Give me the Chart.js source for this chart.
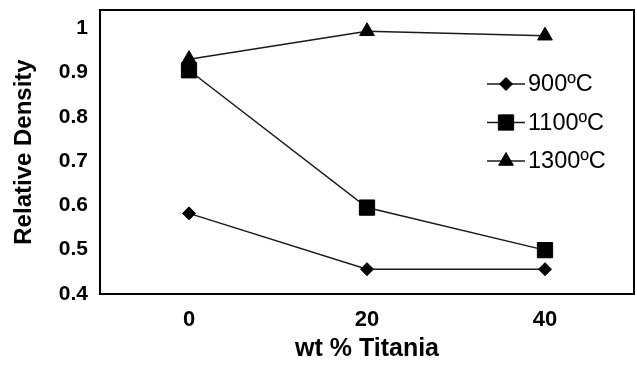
<!DOCTYPE html>
<html>
<head>
<meta charset="utf-8">
<script src="https://cdn.jsdelivr.net/npm/chart.js@4/dist/chart.umd.min.js"></script>
<style>
  html, body { margin: 0; padding: 0; background: #fff; }
  #wrap { width: 637px; height: 365px; position: relative; }
</style>
</head>
<body>
<div id="wrap"><canvas id="c" width="637" height="365"></canvas></div>
<script>
const categories = ['0', '20', '40'];
const seriesNames = ['900ºC', '1100ºC', '1300ºC'];
const d900 = [0.582, 0.456, 0.456];
const d1100 = [0.905, 0.595, 0.499];
const d1300 = [0.930, 0.993, 0.983];
const yTicks = [0.4, 0.5, 0.6, 0.7, 0.8, 0.9, 1];

const FONT = 'Arial, "Liberation Sans", Helvetica, sans-serif';
const LINE = '#1a1a1a';

function ds(label, data, style, r) {
  return {
    label, data,
    borderColor: LINE, borderWidth: 1.5,
    pointStyle: style, pointRadius: r, pointHoverRadius: r,
    pointBackgroundColor: '#000', pointBorderColor: '#000', pointBorderWidth: 1,
    tension: 0, fill: false, clip: false
  };
}

const framePlugin = {
  id: 'frame',
  afterDatasetsDraw(chart) {
    const {ctx, chartArea: a} = chart;
    ctx.save();
    ctx.strokeStyle = '#000';
    ctx.lineWidth = 2;
    ctx.strokeRect(a.left, a.top, a.right - a.left, a.bottom - a.top);
    ctx.restore();
  }
};

const legendPlugin = {
  id: 'customLegend',
  afterDraw(chart, args, opts) {
    const {ctx} = chart;
    ctx.save();
    chart.data.datasets.forEach((d, i) => {
      const y = opts.y + i * opts.gap;
      ctx.strokeStyle = d.borderColor;
      ctx.lineWidth = d.borderWidth;
      ctx.beginPath();
      ctx.moveTo(opts.x, y);
      ctx.lineTo(opts.x + opts.lineLen, y);
      ctx.stroke();
      ctx.fillStyle = '#000';
      ctx.strokeStyle = '#000';
      ctx.lineWidth = 1;
      Chart.helpers.drawPoint(ctx, {pointStyle: d.pointStyle, radius: d.pointRadius, borderWidth: 1}, opts.x + opts.lineLen / 2, y);
      ctx.fillStyle = '#000';
      ctx.font = opts.font;
      ctx.textBaseline = 'middle';
      ctx.textAlign = 'left';
      ctx.fillText(d.label, opts.x + opts.lineLen + opts.textGap, y + 1);
    });
    ctx.restore();
  }
};

new Chart(document.getElementById('c'), {
  type: 'line',
  data: {
    labels: categories,
    datasets: [
      ds(seriesNames[0], d900, 'rectRot', 6.5),
      ds(seriesNames[1], d1100, 'rect', 10.8),
      ds(seriesNames[2], d1300, 'triangle', 8.5)
    ]
  },
  plugins: [framePlugin, legendPlugin],
  options: {
    responsive: false,
    animation: false,
    layout: { autoPadding: false, padding: { top: 10, right: 3, left: 0, bottom: 0 } },
    plugins: {
      legend: { display: false },
      tooltip: { enabled: false },
      customLegend: { x: 487, y: 84, gap: 38.5, lineLen: 38, textGap: 3, font: '23.5px ' + FONT }
    },
    scales: {
      x: {
        type: 'category',
        offset: true,
        grid: { display: false, drawTicks: false },
        border: { display: false },
        ticks: { color: '#000', font: { family: FONT, size: 22, weight: 'bold' }, padding: 13, maxRotation: 0 },
        title: { display: true, text: 'wt % Titania', color: '#000', font: { family: FONT, size: 25, weight: 'bold' }, padding: { top: 0, bottom: 1 } },
        afterFit(s) { s.height = 71; s.paddingLeft = 0; s.paddingRight = 0; }
      },
      y: {
        type: 'linear',
        min: 0.4, max: 1.041,
        grid: { display: false, drawTicks: false },
        border: { display: false },
        ticks: {
          color: '#000', font: { family: FONT, size: 21, weight: 'bold' }, padding: 12,
          stepSize: 0.1,
          callback: (v) => String(Math.round(v * 10) / 10)
        },
        afterBuildTicks(s) { s.ticks = yTicks.map(v => ({ value: v })); },
        title: { display: true, text: 'Relative Density', color: '#000', font: { family: FONT, size: 24, weight: 'bold' }, padding: { top: 10, bottom: 0 } },
        afterFit(s) { s.width = 100; s.paddingTop = 0; s.paddingBottom = 0; }
      }
    }
  }
});
</script>
</body>
</html>
